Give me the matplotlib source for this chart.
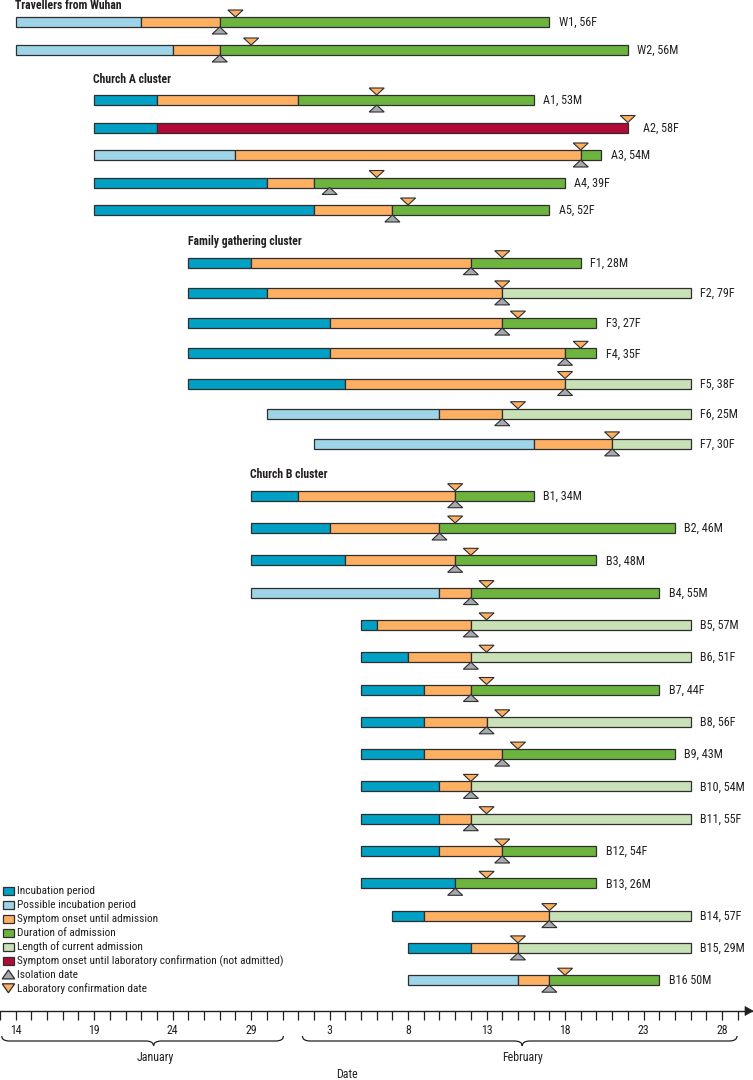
import matplotlib
matplotlib.use('Agg')
import matplotlib.pyplot as plt
from matplotlib.patches import Polygon, Rectangle, PathPatch
from matplotlib.path import Path

# ---------------- data (days since 14 January 2020) ----------------
groups = ['Travellers from Wuhan', 'Church A cluster', 'Family gathering cluster', 'Church B cluster']
group_sizes = [2, 5, 7, 16]
labels = ['W1, 56F', 'W2, 56M',
          'A1, 53M', 'A2, 58F', 'A3, 54M', 'A4, 39F', 'A5, 52F',
          'F1, 28M', 'F2, 79F', 'F3, 27F', 'F4, 35F', 'F5, 38F', 'F6, 25M', 'F7, 30F',
          'B1, 34M', 'B2, 46M', 'B3, 48M', 'B4, 55M', 'B5, 57M', 'B6, 51F', 'B7, 44F', 'B8, 56F',
          'B9, 43M', 'B10, 54M', 'B11, 55F', 'B12, 54F', 'B13, 26M', 'B14, 57F', 'B15, 29M', 'B16 50M']
start = [0, 0, 5, 5, 5, 5, 5, 11, 11, 11, 11, 11, 16, 19,
         15, 15, 15, 15, 22, 22, 22, 22, 22, 22, 22, 22, 22, 24, 25, 25]
onset = [8, 10, 9, 9, 14, 16, 19, 15, 16, 20, 20, 21, 27, 33,
         18, 20, 21, 27, 23, 25, 26, 26, 26, 27, 27, 27, 28, 26, 29, 32]
admit = [13, 13, 18, 9, 36, 19, 24, 29, 31, 31, 35, 35, 31, 38,
         28, 27, 28, 29, 29, 29, 29, 30, 31, 29, 29, 31, 28, 34, 32, 34]
end = [34, 39, 33, 39, 37.3, 35, 34, 36, 43, 37, 37, 43, 43, 43,
       33, 42, 37, 41, 43, 43, 41, 43, 42, 43, 43, 37, 37, 43, 43, 41]
incub_kind = ['P', 'P', 'I', 'I', 'P', 'I', 'I', 'I', 'I', 'I', 'I', 'I', 'P', 'P',
              'I', 'I', 'I', 'P', 'I', 'I', 'I', 'I', 'I', 'I', 'I', 'I', 'I', 'I', 'I', 'P']
stay_kind = ['D', 'D', 'D', 'R', 'D', 'D', 'D', 'D', 'C', 'D', 'D', 'C', 'C', 'C',
             'D', 'D', 'D', 'D', 'C', 'C', 'D', 'C', 'D', 'C', 'C', 'D', 'D', 'C', 'C', 'D']
lab = [14, 15, 23, 39, 36, 23, 25, 31, 31, 32, 36, 35, 32, 38,
       28, 28, 29, 30, 30, 30, 30, 31, 32, 29, 30, 31, 30, 34, 32, 35]
iso = [13, 13, 23, None, 36, 20, 24, 29, 31, 31, 35, 35, 31, 38,
       28, 27, 28, 29, 29, 29, 29, 30, 31, 29, 29, 31, 28, 34, 32, 34]
tick_days = list(range(0, 46, 5))
tick_labels = ['14', '19', '24', '29', '3', '8', '13', '18', '23', '28']
legend_labels = ['Incubation period', 'Possible incubation period', 'Symptom onset until admission',
                 'Duration of admission', 'Length of current admission',
                 'Symptom onset until laboratory confirmation (not admitted)',
                 'Isolation date', 'Laboratory confirmation date']

# ---------------- style / layout ----------------
C_INC = '#00a1c5'
C_POS = '#9dd4e7'
C_ORA = '#fdb062'
C_DUR = '#6db43f'
C_CUR = '#c9e1b6'
C_RED = '#b10a38'
C_ISO = '#a6aaae'
EDGE = '#2e2e2e'
TXT = '#231f20'
kind_color = {'I': C_INC, 'P': C_POS, 'D': C_DUR, 'C': C_CUR, 'R': C_RED}

W, H = 753, 1080
X0, PXD = 15.0, 15.71          # pixel of day 0, pixels per day
def d(px):
    return (px - X0) / PXD

group_first_y = [22, 100, 262.7, 495.7]
group_step = [28, 27.5, 30.2, 32.3]
header_base = [9, 83, 245, 478]
BAR_H = 10
TRI_W = 0.48   # half width in days
TRI_H = 7
FS_LEG = 8.2
FS_LAB = 8.7
FS_AX = 8.6

plt.rcParams['font.family'] = ['Roboto Condensed', 'Lato', 'DejaVu Sans']
fig = plt.figure(figsize=(W / 100, H / 100), dpi=100)
ax = fig.add_axes([0, 0, 1, 1])
ax.set_xlim(d(0), d(W))
ax.set_ylim(H, 0)

# row positions
ys = []
for gy, gs, n in zip(group_first_y, group_step, group_sizes):
    ys += [gy + gs * i for i in range(n)]

# bars
for i in range(len(labels)):
    y = ys[i]
    segs = [(start[i], onset[i], kind_color[incub_kind[i]]),
            (onset[i], admit[i], C_ORA),
            (admit[i], end[i], kind_color[stay_kind[i]])]
    for a, b, c in segs:
        if b - a > 0:
            ax.barh(y, b - a, left=a, height=BAR_H, color=c, edgecolor=EDGE, linewidth=0.9, zorder=2)
    top = y - BAR_H / 2
    bot = y + BAR_H / 2
    L = lab[i]
    ax.add_patch(Polygon([(L - TRI_W, top - TRI_H), (L + TRI_W, top - TRI_H), (L, top)],
                         closed=True, facecolor=C_ORA, edgecolor=EDGE, linewidth=0.8, zorder=3))
    if iso[i] is not None:
        S = iso[i]
        ax.add_patch(Polygon([(S - TRI_W, bot + TRI_H), (S + TRI_W, bot + TRI_H), (S, bot)],
                             closed=True, facecolor=C_ISO, edgecolor=EDGE, linewidth=0.8, zorder=3))
    xend = max(end[i], lab[i])
    off = 0.6 if lab[i] < end[i] else 0.95
    ax.text(xend + off, y + 0.5, labels[i], fontsize=FS_LAB, color=TXT, va='center', ha='left')

# group headers
idx = 0
for g, n, hb in zip(groups, group_sizes, header_base):
    x = min(start[idx:idx + n])
    ax.text(x - 0.05, hb, g, fontsize=8.5, fontweight='bold', color=TXT, va='baseline', ha='left')
    idx += n

# legend
LEG_Y0, LEG_STEP = 891, 13.9
patch_cols = [C_INC, C_POS, C_ORA, C_DUR, C_CUR, C_RED]
for k, lbl in enumerate(legend_labels):
    yc = LEG_Y0 + LEG_STEP * k
    if k < 6:
        ax.add_patch(Rectangle((d(2), yc - 4), d(13) - d(2), 8, facecolor=patch_cols[k],
                               edgecolor=EDGE, linewidth=0.9, zorder=3))
    elif k == 6:
        ax.add_patch(Polygon([(d(1.5), yc + 4.5), (d(14), yc + 4.5), (d(7.7), yc - 4.5)], closed=True,
                             facecolor=C_ISO, edgecolor=EDGE, linewidth=0.9, zorder=3))
    else:
        ax.add_patch(Polygon([(d(1.5), yc - 4.5), (d(14), yc - 4.5), (d(7.7), yc + 4.5)], closed=True,
                             facecolor=C_ORA, edgecolor=EDGE, linewidth=0.9, zorder=3))
    ax.text(d(16.5), yc + 0.3, lbl, fontsize=FS_LEG, color=TXT, va='center', ha='left')

# date axis
for s in ['top', 'left', 'right']:
    ax.spines[s].set_visible(False)
ax.spines['bottom'].set_position(('data', 1011))
ax.spines['bottom'].set_color(TXT)
ax.spines['bottom'].set_linewidth(1.0)
ax.set_yticks([])
ax.set_xticks(tick_days)
ax.set_xticklabels(tick_labels)
ax.set_xticks(list(range(-1, 47)), minor=True)
ax.tick_params(axis='x', which='both', direction='out', length=6.5, width=0.9, color=TXT,
               labelsize=FS_AX, labelcolor=TXT, pad=2.5)
ax.add_patch(Polygon([(d(745), 1006.5), (d(753), 1011), (d(745), 1015.5)], closed=True,
                     facecolor=TXT, edgecolor=TXT, linewidth=0.5, clip_on=False, zorder=4))

def brace(x0, x1, xm, yt, yb):
    ym = (yt + yb) / 2
    r = 0.5
    verts = [(x0, yt), (x0, ym), (x0 + r, ym), (xm - r, ym), (xm, ym), (xm, yb),
             (xm, ym), (xm + r, ym), (x1 - r, ym), (x1, ym), (x1, yt)]
    codes = [Path.MOVETO, Path.CURVE3, Path.CURVE3, Path.LINETO, Path.CURVE3, Path.CURVE3,
             Path.CURVE3, Path.CURVE3, Path.LINETO, Path.CURVE3, Path.CURVE3]
    ax.add_patch(PathPatch(Path(verts, codes), facecolor='none', edgecolor=TXT, linewidth=0.9))

brace(d(1), d(283), d(153), 1036, 1046)
brace(d(302), d(737), d(522), 1036, 1046)
ax.text(d(155), 1057, 'January', fontsize=FS_AX, color=TXT, ha='center', va='center')
ax.text(d(522), 1057, 'February', fontsize=FS_AX, color=TXT, ha='center', va='center')
ax.text(d(347), 1075, 'Date', fontsize=FS_AX, color=TXT, ha='center', va='center')

fig.savefig('out.png', dpi=100)
